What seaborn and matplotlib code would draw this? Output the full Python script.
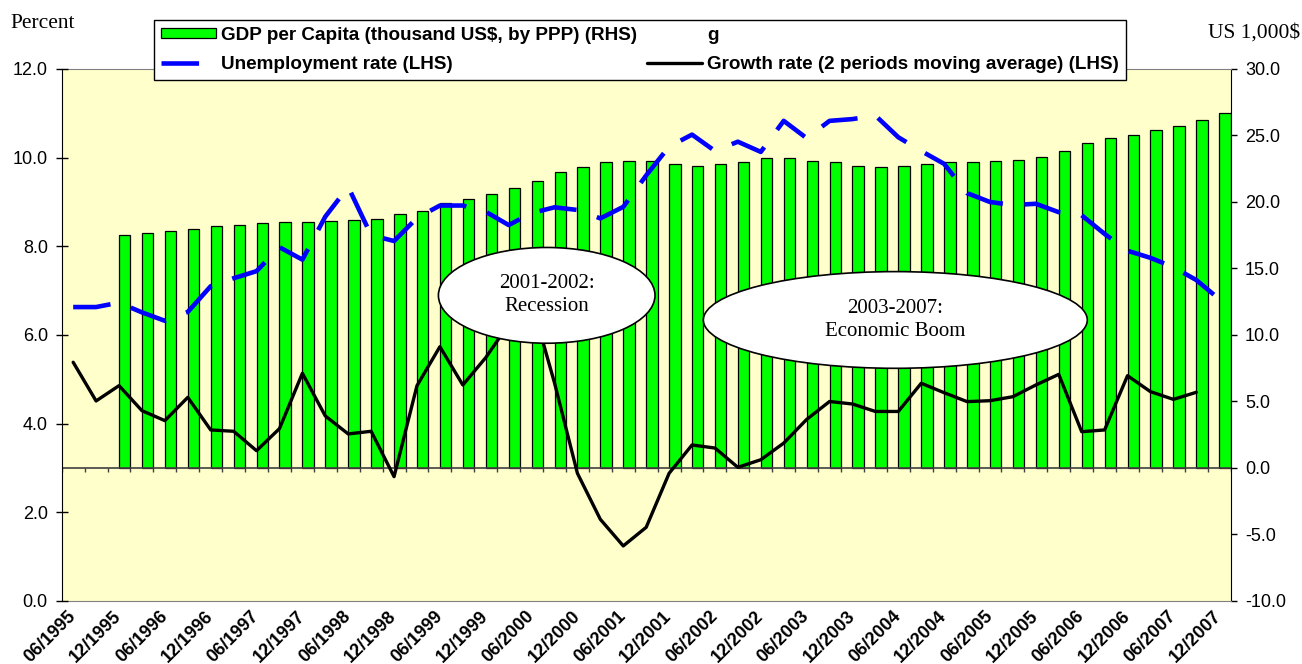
import numpy as np
import pandas as pd
import matplotlib
matplotlib.use('Agg')
import matplotlib.pyplot as plt
import seaborn as sns
from matplotlib.patches import Ellipse, Patch
from matplotlib.lines import Line2D

# quarterly data, 06/1995 .. 12/2007 (51 quarters)
tick_labels = ['06/1995', '12/1995', '06/1996', '12/1996', '06/1997', '12/1997',
               '06/1998', '12/1998', '06/1999', '12/1999', '06/2000', '12/2000',
               '06/2001', '12/2001', '06/2002', '12/2002', '06/2003', '12/2003',
               '06/2004', '12/2004', '06/2005', '12/2005', '06/2006', '12/2006',
               '06/2007', '12/2007']

# GDP per capita, thousand US$ (RHS)
gdp = [np.nan, np.nan, 17.54, 17.67, 17.84, 17.99, 18.2, 18.3, 18.4, 18.47,
       18.5, 18.6, 18.65, 18.75, 19.07, 19.35, 19.9, 20.25, 20.6, 21.08,
       21.6, 22.23, 22.6, 22.98, 23.1, 23.06, 22.83, 22.73, 22.83, 22.98,
       23.28, 23.33, 23.1, 22.98, 22.68, 22.65, 22.71, 22.83, 23.03, 22.98,
       23.08, 23.16, 23.36, 23.83, 24.41, 24.79, 25.06, 25.41, 25.74, 26.17,
       26.72]

# unemployment rate, percent (LHS)
unemployment = [6.63, 6.63, 6.73, 6.51, 6.32, 6.52, 7.1, 7.28, 7.44, 7.98,
                7.7, 8.67, 9.34, 8.25, 8.12, 8.64, 8.92, 8.92, 8.78, 8.48,
                8.75, 8.88, 8.82, 8.63, 8.89, 9.6, 10.25, 10.52, 10.15, 10.36,
                10.13, 10.83, 10.44, 10.83, 10.87, 10.95, 10.46, 10.15, 9.86, 9.2,
                9.0, 8.93, 8.96, 8.77, 8.7, 8.28, 7.9, 7.74, 7.53, 7.24,
                6.81]

# growth rate, 2 periods moving average
growth = [7.95, 5.04, 6.19, 4.31, 3.56, 5.31, 2.86, 2.76, 1.3, 2.96,
          7.12, 3.91, 2.56, 2.76, -0.65, 6.19, 9.12, 6.24, 8.3, 10.8,
          12.5, 6.4, -0.4, -3.86, -5.86, -4.46, -0.4, 1.73, 1.5, 0.05,
          0.62, 1.87, 3.65, 5.0, 4.81, 4.25, 4.25, 6.37, 5.66, 4.99,
          5.06, 5.36, 6.24, 7.04, 2.73, 2.86, 6.94, 5.74, 5.16, 5.69,
          np.nan]

df = pd.DataFrame({'q': np.arange(len(gdp)), 'gdp': gdp,
                   'unemp': unemployment, 'growth': growth})
bars = df.dropna(subset=['gdp']).copy()
bars['xpos'] = bars['q'] + 0.25  # GDP sits in the right half of each cluster

sns.set_style('white')
plt.rcParams['font.family'] = ['Liberation Sans', 'DejaVu Sans']
plt.rcParams['text.color'] = 'black'
plt.rcParams['xtick.color'] = 'black'
plt.rcParams['ytick.color'] = 'black'

fig, ax = plt.subplots(figsize=(13.02, 6.64), dpi=100)
fig.subplots_adjust(left=0.0474, right=0.9452, top=0.8961, bottom=0.0949)
ax2 = ax.twinx()
ax.yaxis.tick_right()
ax2.yaxis.tick_left()

ax.set_facecolor('#FFFFCC')

sns.barplot(data=bars, x='xpos', y='gdp', native_scale=True, width=0.5,
            color='#00FF00', saturation=1, edgecolor='black', linewidth=0.9,
            errorbar=None, ax=ax)
ax.axhline(0, color='#404040', lw=1.2, zorder=2.5)
ax.vlines(np.arange(-0.5, 51, 1), -0.3, 0, color='#404040', lw=1, zorder=2.5)
sns.lineplot(data=df, x='q', y='growth', color='black', lw=2.4,
             errorbar=None, ax=ax, zorder=3)

sns.lineplot(data=df, x='q', y='unemp', color='#0000FF', lw=3.3,
             linestyle=(0, (8.2, 4.7)), dash_capstyle='butt',
             errorbar=None, ax=ax2)

ax.set_xlim(-0.5, 50.5)
ax.set_ylim(-10, 30)
ax2.set_ylim(0, 12)
ax.set_yticks(np.arange(-10, 31, 5))
ax.set_yticklabels([f'{v:.1f}' for v in np.arange(-10, 31, 5)])
ax2.set_yticks(np.arange(0, 13, 2))
ax2.set_yticklabels([f'{v:.1f}' for v in np.arange(0, 13, 2)])
ax.set_xticks(np.arange(0, 51, 2))
ax.set_xticklabels(tick_labels, rotation=45, ha='right', va='center',
                   rotation_mode='anchor', fontweight='bold', fontsize=13)
ax.tick_params(axis='x', length=0, pad=9, labelcolor='black')
ax.tick_params(axis='y', direction='out', length=4.3, width=1, labelsize=13,
               pad=6, colors='black')
ax2.tick_params(axis='y', direction='inout', length=8, width=1, labelsize=13,
                pad=6, colors='black')
for a in (ax, ax2):
    a.set_xlabel('')
    a.set_ylabel('')

ax.spines['top'].set_color('#808080')
ax.spines['bottom'].set_color('#808080')
ax.spines['left'].set_visible(False)
ax.spines['right'].set_color('black')
for s in ('top', 'bottom', 'right'):
    ax2.spines[s].set_visible(False)
ax2.spines['left'].set_color('black')

# annotations
ax.add_patch(Ellipse((20.66, 12.98), 9.45, 7.2, facecolor='white',
                     edgecolor='black', lw=1.2, zorder=10))
ax.text(20.66, 12.98, '2001-2002:\nRecession', ha='center', va='center',
        family='Liberation Serif', fontsize=15, linespacing=1.3, zorder=11)
ax.add_patch(Ellipse((35.87, 11.13), 16.75, 7.27, facecolor='white',
                     edgecolor='black', lw=1.2, zorder=10))
ax.text(35.87, 11.13, '2003-2007:\nEconomic Boom', ha='center', va='center',
        family='Liberation Serif', fontsize=15, linespacing=1.3, zorder=11)

fig.text(10 / 1302, 1 - 23 / 664, 'Percent', family='Liberation Serif',
         fontsize=15.5, ha='left', va='center')
fig.text(1300 / 1302, 1 - 33 / 664, 'US 1,000$', family='Liberation Serif',
         fontsize=15.5, ha='right', va='center')

handles = [Patch(facecolor='#00FF00', edgecolor='black', lw=0.9),
           Line2D([], [], color='#0000FF', lw=3.3, linestyle=(0, (8.2, 4.7)),
                  dash_capstyle='butt'),
           Line2D([], [], linestyle='none'),
           Line2D([], [], color='black', lw=2.4)]
labels = ['GDP per Capita (thousand US$, by PPP) (RHS)',
          'Unemployment rate (LHS)', 'g',
          'Growth rate (2 periods moving average) (LHS)']
leg = fig.legend(handles, labels, ncol=2, loc='upper left',
                 bbox_to_anchor=(154 / 1302, 1 - 20 / 664), frameon=True,
                 fancybox=False, edgecolor='black', framealpha=1,
                 prop={'family': 'Liberation Sans', 'weight': 'bold', 'size': 13.6},
                 handlelength=2.9, handleheight=0.45, handletextpad=0.3,
                 columnspacing=0.5, borderpad=0.37, labelspacing=0.61,
                 borderaxespad=0)
leg.get_frame().set_linewidth(1.0)

fig.savefig('out.png', dpi=100)
